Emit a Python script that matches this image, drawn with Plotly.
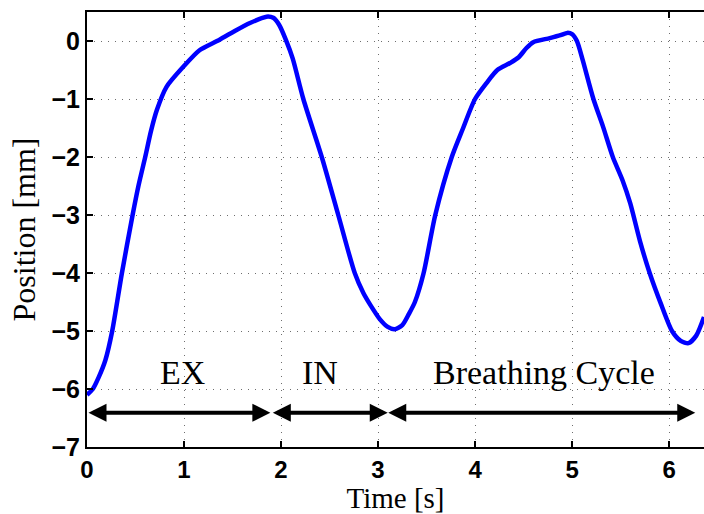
import plotly.graph_objects as go

time_s = [0, 0.06, 0.12, 0.19, 0.26, 0.36, 0.47, 0.53, 0.6, 0.66, 0.72, 0.82, 0.99, 1.16, 1.34,
          1.51, 1.68, 1.85, 1.92, 1.98, 2.05, 2.12, 2.23, 2.42, 2.59, 2.76, 2.85, 2.92, 3.02,
          3.1, 3.17, 3.25, 3.32, 3.38, 3.47, 3.59, 3.76, 3.87, 4.0, 4.12, 4.23, 4.36, 4.45,
          4.53, 4.6, 4.77, 4.88, 4.95, 5.0, 5.05, 5.11, 5.22, 5.32, 5.42, 5.52, 5.6, 5.7,
          5.8, 5.92, 6.03, 6.12, 6.2, 6.28, 6.36]
position_mm = [-6.1, -6.0, -5.8, -5.5, -5.0, -4.0, -3.0, -2.5, -2.0, -1.55, -1.19, -0.79, -0.45, -0.16, 0.0,
               0.16, 0.31, 0.42, 0.40, 0.28, 0.02, -0.3, -1.0, -2.0, -3.0, -4.0, -4.35, -4.55, -4.8,
               -4.93, -4.97, -4.9, -4.7, -4.5, -4.0, -3.0, -2.0, -1.53, -1.0, -0.72, -0.5, -0.38, -0.28,
               -0.12, -0.02, 0.05, 0.1, 0.14, 0.12, 0.0, -0.33, -1.0, -1.48, -2.0, -2.4, -2.8, -3.45,
               -4.0, -4.55, -5.0, -5.17, -5.21, -5.08, -4.76]

phase_labels = ["EX", "IN", "Breathing Cycle"]
phase_start = [0.0, 1.9, 3.09]
phase_end = [1.89, 3.1, 6.27]
phase_label_x = [0.98, 2.4, 4.71]
arrow_y = -6.41
label_y = -5.72

x_ticks = [0, 1, 2, 3, 4, 5, 6]
y_ticks = [-7, -6, -5, -4, -3, -2, -1, 0]

serif = "Liberation Serif"
grid_color = "rgb(110,110,110)"

fig = go.Figure()
fig.add_trace(go.Scatter(x=time_s, y=position_mm, mode="lines",
                         line=dict(color="rgb(0,0,255)", width=4.5, shape="spline", smoothing=0.7),
                         showlegend=False, hoverinfo="skip"))

annotations = []
for lab, s, e, lx in zip(phase_labels, phase_start, phase_end, phase_label_x):
    annotations.append(dict(x=e, y=arrow_y, ax=s, ay=arrow_y, xref="x", yref="y",
                            axref="x", ayref="y", text="", showarrow=True,
                            arrowhead=2, startarrowhead=2, arrowside="end+start",
                            arrowsize=0.9, startarrowsize=0.9, arrowwidth=4, arrowcolor="black",
                            standoff=0, startstandoff=0))
    annotations.append(dict(x=lx, y=label_y, xref="x", yref="y", text=lab, showarrow=False,
                            font=dict(family=serif, size=34, color="black"),
                            xanchor="center", yanchor="middle"))

fig.update_layout(
    width=704, height=514,
    margin=dict(l=87, r=0, t=12, b=67),
    paper_bgcolor="white", plot_bgcolor="white",
    annotations=annotations,
    xaxis=dict(range=[0, 6.36], tickvals=x_ticks, ticktext=[str(v) for v in x_ticks],
               showline=True, linecolor="black", linewidth=2, mirror="ticks",
               ticks="inside", ticklen=6, tickwidth=1.5, tickcolor="black",
               showgrid=True, gridcolor=grid_color, griddash="1px,6px", gridwidth=1,
               zeroline=False,
               tickfont=dict(family="Liberation Sans", size=24, color="black", weight="bold"),
               title=dict(text="Time [s]", font=dict(family=serif, size=29, color="black"), standoff=11)),
    yaxis=dict(range=[-7, 0.5], tickvals=y_ticks, ticktext=[("−" + str(-v)) if v < 0 else str(v) for v in y_ticks],
               showline=True, linecolor="black", linewidth=2, mirror=False,
               ticks="inside", ticklen=6, tickwidth=1.5, tickcolor="black",
               showgrid=True, gridcolor=grid_color, griddash="1px,6px", gridwidth=1,
               zeroline=False,
               tickfont=dict(family="Liberation Sans", size=25, color="black", weight="bold"),
               title=dict(text="Position [mm]", font=dict(family=serif, size=32, color="black"), standoff=6)),
)

fig.write_html("out.html")
